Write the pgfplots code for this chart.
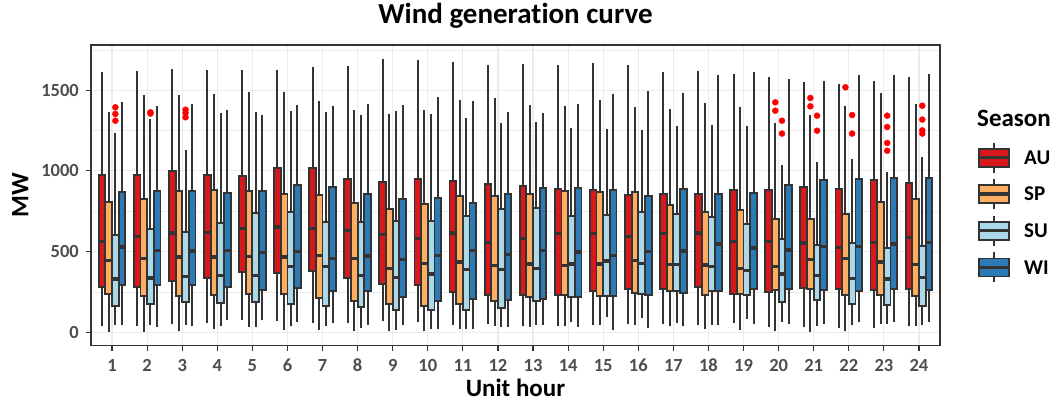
\documentclass[border=0pt]{standalone}
\usepackage{pgfplots}
\pgfplotsset{compat=1.18}
\usepackage{fontspec}
\setmainfont{Carlito}[Ligatures=NoCommon]
\definecolor{cAU}{HTML}{D7191C}
\definecolor{cSP}{HTML}{FDAE61}
\definecolor{cSU}{HTML}{ABD9E9}
\definecolor{cWI}{HTML}{2C7BB6}
\definecolor{bline}{HTML}{333333}
\definecolor{tickgrey}{HTML}{4D4D4D}
\definecolor{gridgrey}{HTML}{EBEBEB}
% one box: position, colour, lower whisker, lower quartile, median, upper quartile, upper whisker
\newcommand{\bp}[7]{%
  \pgfmathsetmacro\xc{#1}%
  \pgfmathsetmacro\xl{\xc-0.095}%
  \pgfmathsetmacro\xr{\xc+0.095}%
  \edef\doplot{%
    \noexpand\addplot[draw=bline, line width=2bp, forget plot] coordinates {(\xc,#3) (\xc,#7)};%
    \noexpand\addplot[draw=bline, fill=#2, line width=1.9bp, line cap=rect, forget plot] coordinates {(\xl,#4) (\xr,#4) (\xr,#6) (\xl,#6) (\xl,#4)};%
    \noexpand\addplot[draw=bline, line width=3.4bp, forget plot] coordinates {(\xl,#5) (\xr,#5)};%
  }\doplot}
\newcommand{\AU}[6]{\bp{#1-0.285}{cAU}{#2}{#3}{#4}{#5}{#6}}
\newcommand{\SP}[6]{\bp{#1-0.095}{cSP}{#2}{#3}{#4}{#5}{#6}}
\newcommand{\SU}[6]{\bp{#1+0.095}{cSU}{#2}{#3}{#4}{#5}{#6}}
\newcommand{\WI}[6]{\bp{#1+0.285}{cWI}{#2}{#3}{#4}{#5}{#6}}
\begin{document}
\begin{tikzpicture}
\path[use as bounding box] (0,0) rectangle (1059bp,406bp);
\begin{axis}[
  at={(91bp,60.3bp)}, anchor=south west,
  scale only axis, width=849bp, height=300.7bp,
  xmin=0.4, xmax=24.6, ymin=-83, ymax=1780,
  xtick={1,...,24}, ytick={0,500,1000,1500},
  minor ytick={250,750,1250,1750},
  xmajorgrids, ymajorgrids, yminorgrids,
  major grid style={draw=gridgrey, line width=1.1bp},
  minor grid style={draw=gridgrey, line width=0.6bp},
  axis line style={draw=bline, line width=1.1bp},
  tick style={draw=bline, line width=1.1bp},
  tick align=outside, tick pos=left,
  major tick length=5.5bp, minor tick length=0bp,
  /pgf/number format/assume math mode=true,
  /pgf/number format/set thousands separator={},
  ticklabel style={font=\fontsize{18.5bp}{20bp}\selectfont\bfseries, text=tickgrey, inner sep=0pt},
  xticklabel style={anchor=north, yshift=-7.8bp},
  yticklabel style={anchor=east, xshift=-6.5bp},
  title={Wind generation curve},
  title style={font=\fontsize{29bp}{32bp}\selectfont\bfseries, at={(axis description cs:0.5,1.0532)}, anchor=base, inner sep=0pt},
  xlabel={Unit hour}, ylabel={MW},
  xlabel style={font=\fontsize{25bp}{28bp}\selectfont\bfseries, at={(axis description cs:0.5,-0.1696)}, anchor=base, inner sep=0pt},
  ylabel style={font=\fontsize{25bp}{28bp}\selectfont\bfseries, at={(axis description cs:-0.0739,0.5)}, anchor=base, inner sep=0pt},
]
% hour, lower whisker, Q1, median, Q3, upper whisker
\AU{1}{37}{283}{564}{975}{1613}  \SP{1}{2}{240}{446}{805}{1363}  \SU{1}{45}{161}{330}{603}{1235}  \WI{1}{43}{295}{529}{869}{1427}
\AU{2}{39}{279}{595}{977}{1621}  \SP{2}{0}{223}{456}{828}{1470}  \SU{2}{45}{178}{337}{640}{1322}  \WI{2}{33}{291}{508}{873}{1400}
\AU{3}{54}{316}{615}{997}{1631}  \SP{3}{6}{223}{467}{873}{1470}  \SU{3}{47}{186}{345}{620}{1132}  \WI{3}{37}{293}{504}{876}{1415}
\AU{4}{58}{337}{620}{977}{1627}  \SP{4}{19}{231}{467}{880}{1476} \SU{4}{41}{180}{351}{677}{1359}  \WI{4}{74}{279}{508}{865}{1375}
\AU{5}{74}{376}{642}{968}{1627}  \SP{5}{35}{240}{471}{876}{1491} \SU{5}{35}{190}{353}{737}{1367}  \WI{5}{74}{262}{494}{873}{1346}
\AU{6}{68}{368}{653}{1020}{1627} \SP{6}{12}{237}{467}{859}{1489} \SU{6}{37}{178}{409}{748}{1373}  \WI{6}{62}{273}{500}{913}{1411}
\AU{7}{58}{378}{642}{1020}{1644} \SP{7}{14}{211}{475}{849}{1435} \SU{7}{39}{165}{407}{681}{1363}  \WI{7}{56}{254}{458}{902}{1402}
\AU{8}{56}{337}{632}{950}{1652}  \SP{8}{6}{192}{456}{801}{1377}  \SU{8}{27}{155}{351}{684}{1346}  \WI{8}{45}{254}{473}{859}{1412}
\AU{9}{68}{301}{605}{933}{1695}  \SP{9}{6}{178}{396}{766}{1351}  \SU{9}{17}{140}{341}{688}{1371}  \WI{9}{45}{217}{450}{828}{1406}
\AU{10}{62}{295}{582}{950}{1689} \SP{10}{10}{165}{425}{797}{1377} \SU{10}{21}{140}{361}{692}{1351} \WI{10}{23}{194}{475}{834}{1460}
\AU{11}{45}{250}{615}{937}{1675} \SP{11}{21}{178}{436}{847}{1439} \SU{11}{21}{140}{390}{719}{1330} \WI{11}{21}{206}{506}{803}{1435}
\AU{12}{52}{229}{558}{917}{1656} \SP{12}{39}{194}{413}{843}{1454} \SU{12}{33}{149}{388}{766}{1299} \WI{12}{33}{202}{483}{855}{1363}
\AU{13}{37}{229}{580}{909}{1662} \SP{13}{33}{221}{423}{857}{1406} \SU{13}{45}{192}{394}{768}{1305} \WI{13}{47}{204}{506}{896}{1357}
\AU{14}{41}{231}{611}{888}{1658} \SP{14}{41}{229}{415}{873}{1400} \SU{14}{62}{217}{423}{719}{1266} \WI{14}{33}{217}{498}{892}{1412}
\AU{15}{43}{254}{611}{882}{1669} \SP{15}{45}{227}{423}{869}{1441} \SU{15}{95}{223}{442}{727}{1260} \WI{15}{17}{225}{477}{880}{1476}
\AU{16}{54}{266}{595}{853}{1658} \SP{16}{45}{246}{444}{867}{1394} \SU{16}{87}{237}{425}{743}{1251} \WI{16}{25}{231}{502}{847}{1493}
\AU{17}{54}{268}{611}{855}{1611} \SP{17}{37}{254}{419}{787}{1381} \SU{17}{58}{254}{419}{731}{1276} \WI{17}{39}{246}{504}{886}{1483}
\AU{18}{45}{279}{615}{855}{1621} \SP{18}{23}{233}{417}{745}{1421} \SU{18}{43}{258}{409}{717}{1282} \WI{18}{45}{258}{547}{855}{1596}
\AU{19}{56}{237}{564}{884}{1602} \SP{19}{14}{237}{396}{758}{1398} \SU{19}{85}{233}{382}{671}{1276} \WI{19}{54}{268}{522}{863}{1611}
\AU{20}{33}{252}{564}{882}{1582} \SP{20}{10}{262}{409}{702}{1299} \SU{20}{64}{190}{361}{580}{1037} \WI{20}{50}{271}{510}{911}{1567}
\AU{21}{31}{273}{553}{898}{1553} \SP{21}{2}{266}{450}{702}{1346}  \SU{21}{41}{198}{353}{543}{1057} \WI{21}{52}{262}{533}{944}{1560}
\AU{22}{25}{266}{527}{886}{1538} \SP{22}{6}{233}{458}{735}{1404}  \SU{22}{45}{178}{332}{555}{1076} \WI{22}{64}{258}{531}{950}{1592}
\AU{23}{25}{264}{558}{944}{1557} \SP{23}{52}{229}{436}{807}{1483} \SU{23}{50}{167}{330}{525}{991}  \WI{23}{66}{266}{547}{958}{1592}
\AU{24}{39}{268}{589}{927}{1582} \SP{24}{39}{223}{419}{824}{1415} \SU{24}{45}{165}{341}{535}{1086} \WI{24}{62}{264}{558}{954}{1602}
% outliers
\addplot[only marks, mark=*, mark size=3bp, draw=red, fill=red] coordinates {
 (1.095,1394) (1.095,1353) (1.095,1311)
 (2.095,1363) (2.095,1355)
 (3.095,1379) (3.095,1359) (3.095,1332)
 (19.905,1425) (19.905,1373) (20.095,1311) (20.095,1231)
 (20.905,1452) (20.905,1400) (21.095,1342) (21.095,1249)
 (21.905,1518) (22.095,1346) (22.095,1231)
 (23.095,1342) (23.095,1272) (23.095,1173) (23.095,1125)
 (24.095,1404) (24.095,1318) (24.095,1251) (24.095,1231)
};
\end{axis}
% legend
\node[anchor=base west, inner sep=0pt] at (977bp,279.3bp) {\fontsize{25bp}{28bp}\selectfont\bfseries Season};
\foreach \yc/\col/\lab in {248.2/cAU/AU, 211.8/cSP/SP, 175.2/cSU/SU, 138.5/cWI/WI} {
  \draw[bline, line width=1.9bp] (994bp,\yc bp+9bp) -- (994bp,\yc bp+15bp);
  \draw[bline, line width=1.9bp] (994bp,\yc bp-9bp) -- (994bp,\yc bp-15bp);
  \draw[bline, fill=\col, line width=1.9bp] (979bp,\yc bp-9bp) rectangle (1009bp,\yc bp+9bp);
  \draw[bline, line width=3.4bp] (979bp,\yc bp) -- (1009bp,\yc bp);
  \node[anchor=base west, inner sep=0pt] at (1024bp,\yc bp-6.8bp) {\fontsize{21bp}{24bp}\selectfont\bfseries \lab};
}
\end{tikzpicture}
\end{document}
